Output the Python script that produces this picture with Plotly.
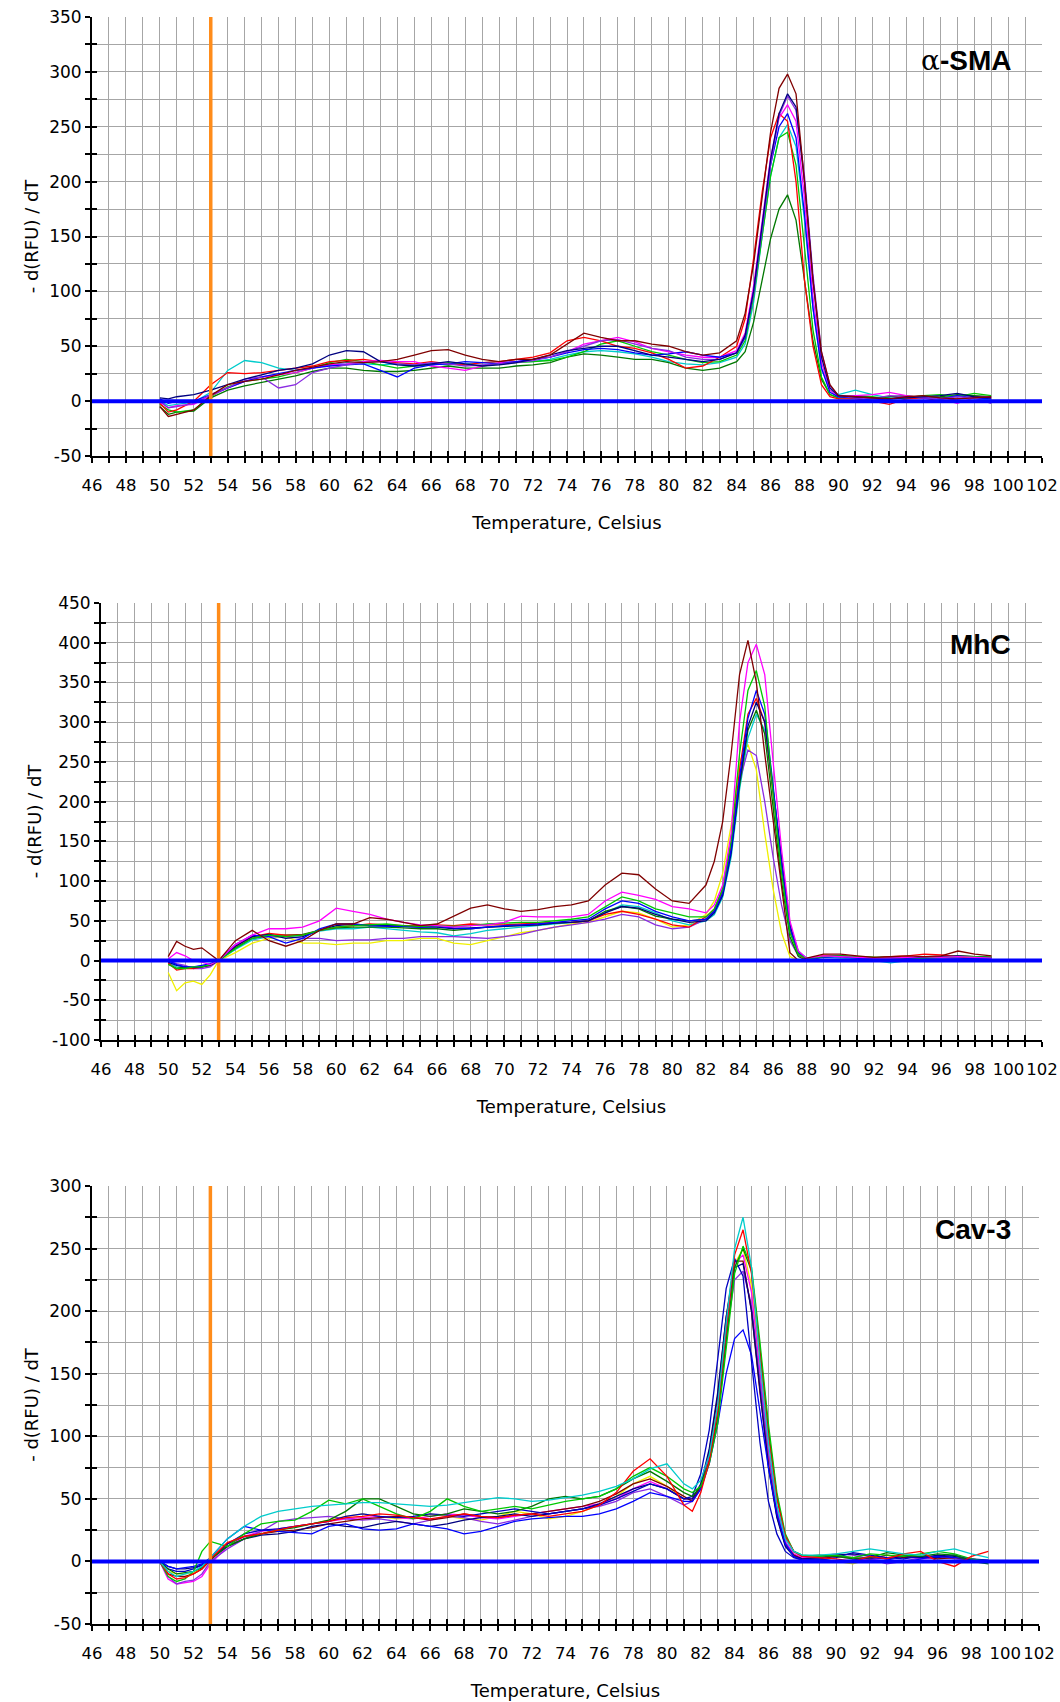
import plotly.graph_objects as go

# ---------------- text ----------------
panel_labels = ["<span style='font-family:DejaVu Serif;font-weight:normal'>α</span><b>-SMA</b>", "<b>MhC</b>", "<b>Cav-3</b>"]
x_title = "Temperature, Celsius"
y_title = "- d(RFU) / dT"
x_ticks = [46, 48, 50, 52, 54, 56, 58, 60, 62, 64, 66, 68, 70, 72, 74, 76, 78, 80, 82, 84,
           86, 88, 90, 92, 94, 96, 98, 100, 102]
x_range = [46, 102]
y_ticks_sma = [-50, 0, 50, 100, 150, 200, 250, 300, 350]
y_ticks_mhc = [-100, -50, 0, 50, 100, 150, 200, 250, 300, 350, 400, 450]
y_ticks_cav = [-50, 0, 50, 100, 150, 200, 250, 300]
marker_temp = 53       # orange vertical marker
baseline_level = 0     # blue threshold line

# ---------------- α-SMA ----------------
T_sma = [50, 50.5, 51, 52, 53, 54, 55, 56, 57, 58, 59, 60, 61, 62, 63, 64, 65, 66, 67, 68, 69, 70,
         71, 72, 73, 74, 75, 76, 77, 78, 79, 80, 81, 82, 83, 84, 84.5, 85, 85.5, 86, 86.5, 87, 87.5,
         88, 88.5, 89, 89.5, 90, 91, 92, 93, 94, 95, 96, 97, 98, 99]
sma_red = [-2, -10, -8, 0, 15, 26, 25, 26, 28, 30, 32, 36, 37, 38, 36, 35, 34, 36, 34, 33, 35, 36,
           38, 40, 44, 55, 58, 55, 50, 48, 44, 38, 30, 32, 40, 50,
           75, 130, 190, 240, 262, 255, 200, 110, 50, 15, 4, 2,
           2, 0, -3, 2, 3, 0, 2, 4, 3]
sma_darkred = [-5, -14, -12, -8, 5, 15, 18, 20, 24, 28, 31, 34, 36, 35, 36, 38, 42, 46, 47, 42, 38, 36,
               38, 38, 42, 52, 62, 58, 55, 55, 52, 50, 45, 42, 44, 55,
               80, 125, 185, 245, 285, 298, 280, 200, 110, 45, 15, 5,
               4, 3, 2, 4, 5, 3, 2, 3, 4]
sma_lime = [-3, -8, -10, -8, 4, 13, 18, 20, 22, 26, 30, 35, 38, 36, 33, 30, 32, 33, 35, 33, 32, 34,
            35, 36, 37, 40, 45, 52, 55, 50, 45, 42, 38, 35, 36, 42,
            55, 95, 150, 205, 240, 245, 215, 140, 65, 22, 6, 3,
            5, 4, 2, 3, 5, 6, 4, 7, 5]
sma_darkgreen = [-5, -12, -10, -9, 3, 10, 14, 17, 20, 23, 27, 30, 30, 28, 27, 27, 28, 30, 32, 30, 30, 30,
                 32, 33, 35, 40, 43, 42, 40, 38, 38, 35, 30, 28, 30, 36,
                 45, 72, 110, 148, 175, 188, 165, 110, 55, 20, 6, 3,
                 3, 2, 4, 5, 3, 4, 6, 5, 4]
sma_blue = [2, -2, 0, 0, 6, 12, 18, 22, 25, 28, 30, 32, 33, 34, 28, 22, 30, 33, 34, 36, 35, 34,
            36, 38, 40, 44, 47, 48, 47, 44, 42, 43, 45, 42, 40, 44,
            58, 100, 160, 215, 250, 262, 240, 170, 85, 30, 8, 4,
            3, 1, 2, 4, 3, 2, 5, 3, 2]
sma_navy = [3, 2, 4, 6, 10, 15, 20, 24, 28, 30, 34, 42, 46, 45, 36, 33, 32, 34, 36, 34, 32, 33,
            35, 38, 42, 46, 48, 50, 50, 46, 42, 40, 38, 36, 38, 44,
            60, 100, 160, 220, 262, 280, 268, 200, 110, 40, 12, 5,
            4, 3, 2, 3, 4, 5, 7, 4, 3]
sma_magenta = [-1, -6, -4, -3, 5, 12, 18, 22, 24, 26, 30, 33, 34, 36, 37, 36, 36, 32, 30, 28, 32, 35,
               36, 38, 40, 45, 52, 55, 58, 54, 48, 45, 42, 40, 40, 46,
               62, 105, 165, 222, 258, 270, 255, 185, 95, 35, 10, 4,
               5, 6, 8, 5, 3, 2, -2, 3, 4]
sma_cyan = [0, -4, -3, -1, 8, 28, 37, 35, 30, 28, 30, 33, 35, 34, 33, 34, 33, 34, 33, 34, 35, 36,
            36, 36, 38, 42, 45, 46, 45, 43, 40, 36, 34, 33, 35, 40,
            52, 90, 150, 205, 240, 252, 232, 165, 85, 30, 10, 6,
            10, 6, 3, 2, 4, 3, 5, 2, 1]
sma_purple = [0, -6, -5, -2, 6, 12, 20, 22, 12, 15, 26, 30, 33, 35, 36, 34, 33, 35, 34, 32, 33, 34,
              35, 37, 40, 45, 50, 55, 56, 52, 48, 46, 40, 38, 38, 44,
              60, 98, 155, 215, 260, 278, 265, 205, 115, 45, 14, 5,
              3, 2, 5, 4, 3, 2, 4, 3, -2]

# ---------------- MhC ----------------
T_mhc = [50, 50.5, 51, 51.5, 52, 52.5, 53, 54, 55, 56, 57, 58, 59, 60, 61, 62, 63, 64, 65, 66, 67,
         68, 69, 70, 71, 72, 73, 74, 75, 76, 77, 78, 79, 80, 81, 82, 82.5, 83, 83.5, 84, 84.5, 85,
         85.5, 86, 86.5, 87, 87.5, 88, 89, 90, 91, 92, 93, 94, 95, 96, 97, 98, 99]
mhc_darkred = [5, 24, 18, 14, 16, 8, 0, 25, 38, 25, 18, 25, 38, 46, 46, 54, 52, 48, 44, 46, 56, 66, 70, 65, 62, 64, 68,
               70, 75, 95, 110, 108, 90, 75, 72, 95,
               125, 175, 260, 360, 403, 350, 260, 175, 90, 10, 0, 3,
               8, 8, 6, 4, 5, 6, 5, 6, 12, 8, 6]
mhc_magenta = [2, 10, 6, 0, -2, -5, 0, 20, 32, 40, 40, 42, 50, 66, 62, 58, 52, 48, 45, 44, 42, 44, 45, 48, 56, 55, 55,
               55, 58, 75, 86, 82, 77, 68, 65, 60,
               70, 95, 160, 300, 375, 398, 360, 250, 140, 50, 12, 3,
               6, 5, 4, 3, 3, 4, 5, 4, 5, 4, 3]
mhc_lime = [-5, -10, -10, -8, -8, -5, 0, 15, 28, 32, 30, 32, 38, 42, 44, 45, 46, 44, 43, 44, 43, 44, 46, 47, 48, 48, 50,
            52, 55, 68, 80, 75, 65, 60, 55, 55,
            65, 90, 150, 260, 340, 365, 320, 210, 110, 35, 8, 2,
            5, 6, 5, 4, 2, 1, 3, 4, 5, 5, 4]
mhc_blue = [0, -5, -8, -8, -6, -4, 0, 20, 32, 30, 22, 28, 40, 46, 46, 44, 43, 43, 42, 43, 41, 40, 42, 44, 45, 46, 48,
            50, 52, 65, 75, 72, 62, 55, 50, 52,
            62, 85, 140, 230, 305, 340, 310, 220, 120, 40, 10, 2,
            4, 5, 3, 1, 0, 2, 3, 4, 3, 2, 3]
mhc_navy = [-2, -6, -8, -9, -8, -6, 0, 18, 30, 33, 28, 30, 38, 44, 46, 44, 44, 43, 42, 42, 40, 41, 42, 43, 44, 45, 47,
            48, 50, 60, 68, 66, 58, 52, 48, 50,
            60, 82, 135, 225, 295, 325, 300, 215, 125, 45, 10, 2,
            5, 6, 4, 2, 3, 3, 4, 5, 6, 5, 4]
mhc_cyan = [-3, -8, -9, -8, -7, -5, 0, 14, 26, 30, 30, 32, 37, 40, 40, 42, 40, 38, 36, 35, 31, 34, 38, 40, 42, 44, 46,
            48, 50, 60, 70, 68, 60, 50, 45, 50,
            58, 80, 130, 215, 280, 310, 290, 215, 125, 45, 12, 3,
            4, 3, 2, 0, -3, 0, 2, 3, 4, 3, 2]
mhc_purple = [0, -4, -6, -10, -10, -8, 0, 16, 28, 30, 30, 28, 28, 25, 26, 26, 28, 28, 30, 30, 30, 29, 28, 30, 33, 38, 42,
              45, 48, 52, 58, 55, 45, 40, 42, 52,
              64, 92, 150, 225, 265, 258, 200, 130, 70, 25, 6, 2,
              6, 5, 4, 2, 3, 4, 3, 2, 3, 4, 3]
mhc_yellow = [-15, -38, -28, -26, -30, -18, 0, 10, 22, 28, 30, 22, 22, 20, 22, 22, 25, 25, 28, 28, 22, 20, 25, 30, 35, 38, 42,
              46, 48, 55, 62, 60, 52, 42, 45, 58,
              75, 110, 170, 250, 272, 240, 160, 90, 35, 5, 0, 2,
              7, 6, 5, 4, 3, 3, 4, 5, 6, 5, 4]
mhc_red = [-3, -12, -10, -10, -8, -6, 0, 18, 30, 34, 32, 32, 38, 42, 44, 46, 45, 44, 44, 45, 44, 46, 45, 45, 46, 47, 48,
           48, 50, 58, 62, 58, 52, 45, 42, 55,
           65, 88, 145, 240, 310, 330, 300, 210, 120, 40, 8, 0,
           6, 5, 4, 3, 5, 6, 8, 7, 5, 2, 0]
mhc_darkgreen = [-4, -10, -8, -9, -8, -5, 0, 16, 28, 32, 32, 33, 38, 41, 42, 42, 42, 41, 40, 40, 38, 40, 42, 43, 44, 45, 47,
                 48, 50, 62, 68, 65, 56, 52, 50, 52,
                 62, 85, 140, 220, 290, 315, 285, 195, 100, 30, 5, 0,
                 5, 6, 5, 4, 5, 3, 4, 5, 6, 5, 4]

# ---------------- Cav-3 ----------------
T_cav = [50, 50.5, 51, 51.5, 52, 52.5, 53, 54, 55, 56, 57, 58, 59, 60, 61, 62, 63, 64, 65, 66, 67,
         68, 69, 70, 71, 72, 73, 74, 75, 76, 77, 78, 79, 80, 81, 81.5, 82, 82.5, 83, 83.5, 84, 84.5,
         85, 85.5, 86, 86.5, 87, 87.5, 88, 89, 90, 91, 92, 93, 94, 95, 96, 97, 98, 99]
cav_cyan = [0, -8, -12, -10, -8, -4, 3,
            18, 28, 36, 40, 42, 44, 45, 46, 47, 47, 46, 45, 44, 45, 47, 49, 51, 50, 48, 49, 51, 53, 56, 60, 66, 74, 78, 62,
            58, 65, 85, 125, 190, 250, 275, 235, 160, 95, 45, 18, 8, 5,
            5, 6, 8, 10, 8, 6, 5, 8, 10, 6, 3]
cav_red = [0, -10, -14, -13, -10, -6, 2,
           15, 20, 22, 25, 28, 30, 32, 35, 36, 38, 37, 35, 34, 36, 38, 36, 35, 37, 38, 36, 38, 40, 45, 55, 72, 82, 68, 45,
           40, 55, 80, 120, 185, 245, 265, 230, 165, 100, 50, 20, 8, 4,
           3, 2, 0, 4, 2, 6, 8, 0, -4, 4, 8]
cav_lime = [0, -12, -16, -14, -8, 8, 16,
            12, 22, 30, 32, 33, 40, 49, 46, 50, 44, 38, 34, 40, 50, 44, 40, 42, 44, 42, 45, 48, 50, 52, 58, 68, 75, 68, 58,
            55, 60, 78, 110, 170, 230, 252, 235, 175, 110, 55, 22, 8, 5,
            4, 5, 3, 6, 5, 4, 6, 8, 6, 2, 0]
cav_yellow = [0, -8, -10, -10, -9, -6, 1,
              12, 18, 22, 26, 28, 30, 33, 36, 38, 36, 34, 35, 38, 36, 34, 33, 36, 40, 38, 34, 36, 40, 45, 52, 62, 68, 60, 50,
              50, 58, 80, 118, 180, 238, 250, 220, 155, 90, 42, 15, 5, 2,
              2, 0, -2, 2, 3, 5, 4, 2, 3, 1, 0]
cav_darkgreen = [0, -6, -10, -9, -8, -5, 2,
                 12, 18, 22, 25, 27, 30, 33, 40, 50, 50, 44, 38, 36, 38, 42, 40, 38, 40, 44, 50, 52, 50, 52, 58, 66, 72, 64, 55,
                 52, 60, 80, 115, 175, 235, 250, 232, 170, 105, 52, 20, 8, 4,
                 5, 4, 2, 3, 7, 5, 4, 6, 5, 0, -2]
cav_navy = [0, -4, -6, -6, -5, -3, 2,
            12, 18, 21, 22, 24, 28, 30, 28, 27, 30, 32, 30, 28, 30, 33, 35, 36, 38, 36, 38, 40, 42, 46, 52, 58, 62, 58, 50,
            50, 62, 90, 135, 195, 235, 238, 200, 135, 75, 35, 12, 4, 2,
            3, 5, 6, 4, 2, 4, 3, 5, 4, 2, 1]
cav_purple = [0, -12, -18, -16, -15, -10, 0,
              10, 18, 24, 32, 34, 35, 36, 34, 33, 34, 32, 30, 33, 36, 35, 32, 30, 33, 36, 38, 40, 42, 44, 48, 55, 58, 52, 45,
              48, 58, 82, 122, 180, 225, 232, 205, 145, 85, 40, 15, 5, 2,
              4, 6, 5, 2, -2, 0, 3, 4, 2, 1, 0]
cav_blue = [0, -4, -6, -5, -4, -2, 3,
            18, 28, 25, 24, 23, 22, 28, 30, 26, 25, 26, 30, 28, 26, 22, 24, 28, 32, 34, 35, 36, 36, 38, 42, 48, 55, 52, 48,
            48, 58, 78, 110, 150, 178, 185, 165, 120, 75, 38, 14, 4, 1,
            2, 0, 1, 3, 2, -1, 2, 4, 3, 2, -1]
cav_mediumblue = [0, -6, -8, -8, -6, -3, 2,
                  14, 22, 25, 26, 28, 30, 32, 36, 38, 36, 35, 36, 38, 37, 36, 38, 40, 42, 40, 38, 40, 42, 45, 50, 56, 62, 58, 50,
                  52, 70, 105, 160, 218, 242, 228, 160, 95, 48, 22, 8, 3, 1,
                  1, 3, 7, 5, 3, 2, 4, 3, 5, 1, 0]
cav_magenta = [0, -14, -18, -17, -16, -12, -2,
               12, 20, 24, 26, 28, 30, 32, 34, 35, 36, 35, 34, 36, 38, 37, 35, 34, 36, 38, 40, 42, 44, 46, 50, 58, 64, 58, 50,
               50, 60, 84, 125, 185, 238, 245, 215, 150, 88, 42, 16, 6, 3,
               3, 4, 2, 1, 3, 4, 2, 3, 5, 2, 0]
cav_darkred = [0, -10, -12, -12, -10, -6, 1,
               14, 20, 22, 24, 25, 27, 30, 32, 34, 35, 36, 35, 33, 35, 38, 36, 35, 37, 38, 40, 42, 44, 48, 54, 62, 66, 60, 52,
               48, 60, 88, 132, 195, 240, 240, 200, 135, 78, 36, 13, 5, 2,
               2, 4, 3, 2, 5, 3, 4, 2, 3, 1, 0]

# ---------------- styles / layout ----------------
C = dict(red="#ff0000", darkred="#800000", lime="#00c800", darkgreen="#007800", blue="#0000ff",
         navy="#000080", magenta="#ff00ff", cyan="#00cccc", purple="#8a2be2", yellow="#f0f000",
         mediumblue="#0000c0")

# the page's body margin is removed after load, so the figure fills the window from (0, 0)
W, H, OFF = 1060, 1702, 0


def px_x(v):
    return (v - OFF) / W


def px_y(v):
    return 1 - (v - OFF) / H


panels = [
    dict(T=T_sma, yticks=y_ticks_sma, label=panel_labels[0], label_y=px_y(61),
         xd=[px_x(92), px_x(1042)], yd=[px_y(456), px_y(17)],
         series=[("cyan", sma_cyan), ("darkgreen", sma_darkgreen), ("lime", sma_lime), ("red", sma_red),
                 ("magenta", sma_magenta), ("blue", sma_blue), ("purple", sma_purple), ("navy", sma_navy),
                 ("darkred", sma_darkred)]),
    dict(T=T_mhc, yticks=y_ticks_mhc, label=panel_labels[1], label_y=px_y(644),
         xd=[px_x(101), px_x(1042)], yd=[px_y(1040), px_y(603)],
         series=[("yellow", mhc_yellow), ("cyan", mhc_cyan), ("purple", mhc_purple), ("darkgreen", mhc_darkgreen),
                 ("red", mhc_red), ("navy", mhc_navy), ("blue", mhc_blue), ("lime", mhc_lime),
                 ("magenta", mhc_magenta), ("darkred", mhc_darkred)]),
    dict(T=T_cav, yticks=y_ticks_cav, label=panel_labels[2], label_y=px_y(1229),
         xd=[px_x(92), px_x(1039)], yd=[px_y(1624), px_y(1186)],
         series=[("yellow", cav_yellow), ("magenta", cav_magenta), ("purple", cav_purple), ("darkred", cav_darkred),
                 ("navy", cav_navy), ("blue", cav_blue), ("mediumblue", cav_mediumblue), ("darkgreen", cav_darkgreen),
                 ("lime", cav_lime), ("red", cav_red), ("cyan", cav_cyan)]),
]

GRID = "#a6a6a6"
fig = go.Figure()
layout = dict(template="none", width=W, height=H, autosize=False, margin=dict(l=0, r=0, t=0, b=0, pad=0),
              paper_bgcolor="white", plot_bgcolor="white", showlegend=False,
              font=dict(family="DejaVu Sans", size=16, color="black"),
              shapes=[], annotations=[])

for i, p in enumerate(panels):
    n = i + 1
    xid = "x" if n == 1 else f"x{n}"
    yid = "y" if n == 1 else f"y{n}"
    xkey = "xaxis" if n == 1 else f"xaxis{n}"
    ykey = "yaxis" if n == 1 else f"yaxis{n}"
    ox, oy = f"x{n + 3}", f"y{n + 3}"
    yr = [p["yticks"][0], p["yticks"][-1]]

    for cname, vals in p["series"]:
        fig.add_trace(go.Scatter(x=p["T"], y=vals, mode="lines", xaxis=xid, yaxis=yid,
                                 line=dict(color=C[cname], width=1.3), name=cname, hoverinfo="skip"))
    # helpers so the inner half of the crossing ticks gets drawn
    fig.add_trace(go.Scatter(x=[None], y=[None], xaxis=ox, yaxis=yid, showlegend=False, hoverinfo="skip"))
    fig.add_trace(go.Scatter(x=[None], y=[None], xaxis=xid, yaxis=oy, showlegend=False, hoverinfo="skip"))

    layout[xkey] = dict(domain=p["xd"], anchor=yid, range=x_range, tickmode="array", tickvals=x_ticks,
                        ticktext=[str(v) for v in x_ticks], tickangle=0, automargin=False,
                        ticklabeloverflow="allow",
                        ticks="outside", ticklen=5, tickwidth=1.5, tickcolor="black",
                        showline=True, linecolor="black", linewidth=2,
                        showgrid=True, gridcolor=GRID, gridwidth=1.2, zeroline=False,
                        minor=dict(tickmode="linear", tick0=46, dtick=1, ticks="outside", ticklen=5,
                                   tickwidth=1.5, tickcolor="black", showgrid=True, gridcolor=GRID, gridwidth=1.2),
                        tickfont=dict(size=16.5), ticklabelstandoff=8,
                        title=dict(text=x_title, font=dict(size=18), standoff=23))
    layout[ykey] = dict(domain=p["yd"], anchor=xid, range=yr, tickmode="array", tickvals=p["yticks"],
                        ticktext=[str(v) for v in p["yticks"]], automargin=False,
                        ticklabeloverflow="allow",
                        ticks="outside", ticklen=5, tickwidth=1.5, tickcolor="black",
                        showline=True, linecolor="black", linewidth=2,
                        showgrid=True, gridcolor=GRID, gridwidth=1.2, zeroline=False,
                        minor=dict(tickmode="linear", tick0=0, dtick=25, ticks="outside", ticklen=5,
                                   tickwidth=1.5, tickcolor="black", showgrid=True, gridcolor=GRID, gridwidth=1.2),
                        tickfont=dict(size=17),
                        title=dict(text=y_title, font=dict(size=18), standoff=6))
    layout[f"xaxis{n + 3}"] = dict(overlaying=xid, anchor=yid, range=x_range, tickmode="linear", tick0=46, dtick=1,
                                   ticks="inside", ticklen=5, tickwidth=1.5, tickcolor="black", automargin=False,
                                   showticklabels=False, showgrid=False, zeroline=False, showline=False)
    layout[f"yaxis{n + 3}"] = dict(overlaying=yid, anchor=xid, range=yr, tickmode="linear", tick0=0, dtick=25,
                                   ticks="inside", ticklen=5, tickwidth=1.5, tickcolor="black", automargin=False,
                                   showticklabels=False, showgrid=False, zeroline=False, showline=False)

    layout["shapes"].append(dict(type="line", xref=xid, yref=f"{yid} domain", x0=marker_temp, x1=marker_temp,
                                 y0=0, y1=1, line=dict(color="#ff8c1a", width=3.5), layer="above"))
    layout["shapes"].append(dict(type="line", xref=f"{xid} domain", yref=yid, x0=0, x1=1,
                                 y0=baseline_level, y1=baseline_level, line=dict(color="#0000ff", width=4),
                                 layer="above"))
    layout["annotations"].append(dict(text=p["label"], xref="paper", yref="paper", x=px_x(1013), y=p["label_y"],
                                      xanchor="right", yanchor="middle", showarrow=False,
                                      font=dict(family="Liberation Sans", size=28, color="black")))

fig.update_layout(**layout)
fig.write_html("out.html", config={"displayModeBar": False},
               post_script="document.body.style.margin='0px'; document.body.style.overflow='hidden';")
